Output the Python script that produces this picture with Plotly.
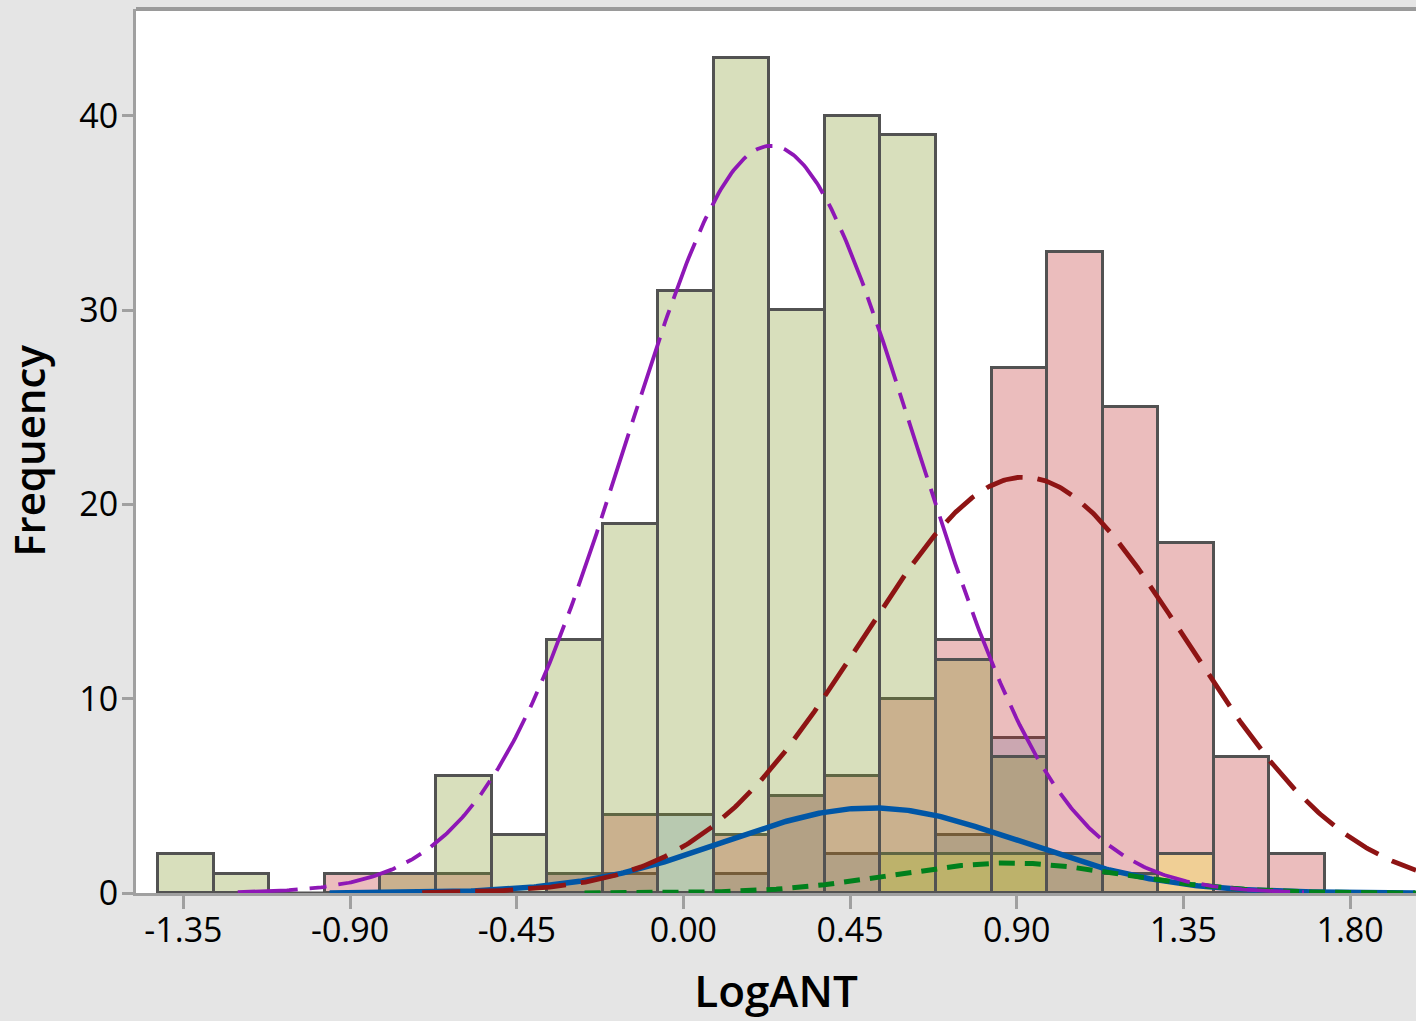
import numpy as np
import plotly.graph_objects as go

# ---------------- data ----------------
bin_centers = [-1.35, -1.20, -1.05, -0.90, -0.75, -0.60, -0.45, -0.30, -0.15, 0.00,
               0.15, 0.30, 0.45, 0.60, 0.75, 0.90, 1.05, 1.20, 1.35, 1.50, 1.65]
bin_width = 0.15
bin_shift = 0.007   # histogram bins sit slightly right of the nominal centres

counts_green  = [2, 1, 0, 0, 1, 6, 3, 13, 19, 31, 43, 30, 40, 39, 12, 7, 2, 1, 0, 0, 0]
counts_pink   = [0, 0, 0, 1, 1, 1, 0, 1, 4, 0, 3, 5, 6, 10, 13, 27, 33, 25, 18, 7, 2]
counts_blue   = [0, 0, 0, 0, 0, 0, 0, 1, 1, 4, 1, 5, 2, 2, 3, 8, 2, 0, 0, 0, 0]
counts_yellow = [0, 0, 0, 0, 0, 0, 0, 0, 0, 0, 0, 0, 0, 2, 2, 2, 0, 0, 2, 0, 0]

# fitted normal curves: (mean, std dev, count)
fit_green  = (0.236, 0.389, 250)
fit_pink   = (0.919, 0.439, 157)
fit_blue   = (0.51, 0.396, 29)
fit_yellow = (0.88, 0.31, 8)
fit_span_sd = 3.7

x_tickvals = [-1.35, -0.90, -0.45, 0.00, 0.45, 0.90, 1.35, 1.80]
x_ticktext = ["-1.35", "-0.90", "-0.45", "0.00", "0.45", "0.90", "1.35", "1.80"]
y_tickvals = [0, 10, 20, 30, 40]

X_RANGE = [-1.478, 1.978]
Y_RANGE = [0, 45.5]

FONT = "Open Sans"
OUTLINE = "#525252"

fig = go.Figure()

# ---------------- histogram bars (overlaid, translucent) ----------------
bar_layers = [
    (counts_blue, "rgba(102,152,198,0.3)"),
    (counts_pink, "rgba(188,38,38,0.3)"),
    (counts_yellow, "rgba(252,247,57,0.3)"),
    (counts_green, "rgba(125,148,32,0.3)"),
]
for counts, col in bar_layers:
    xs = [c for c, v in zip(bin_centers, counts) if v > 0]
    ys = [v for v in counts if v > 0]
    fig.add_trace(go.Bar(
        x=xs, y=ys, width=bin_width, offset=-bin_width / 2 + bin_shift,
        marker=dict(color=col, line=dict(color=OUTLINE, width=3)),
        hoverinfo="skip", showlegend=False,
    ))

# baseline under the histogram span
fig.add_trace(go.Scatter(
    x=[bin_centers[0] - bin_width / 2 + bin_shift, bin_centers[-1] + bin_width / 2 + bin_shift],
    y=[0, 0],
    mode="lines", line=dict(color=OUTLINE, width=3),
    hoverinfo="skip", showlegend=False, cliponaxis=False,
))

# ---------------- normal fit curves ----------------
def normal_curve(fit):
    mu, sd, n = fit
    lo = max(mu - fit_span_sd * sd, X_RANGE[0])
    hi = min(mu + fit_span_sd * sd, X_RANGE[1])
    x = np.linspace(lo, hi, 500)
    y = n * bin_width / (sd * np.sqrt(2 * np.pi)) * np.exp(-0.5 * ((x - mu) / sd) ** 2)
    return x, y

curve_styles = [
    (fit_blue, "#0056a6", 5.5, "solid"),
    (fit_yellow, "#00801c", 5, "16px,10px"),
    (fit_pink, "#8e1414", 4.8, "38px,15px"),
    (fit_green, "#8e17b6", 3.8, "60px,12px,17px,12px"),
]
for fit, col, w, dash in curve_styles:
    cx, cy = normal_curve(fit)
    fig.add_trace(go.Scatter(
        x=cx, y=cy, mode="lines",
        line=dict(color=col, width=w, dash=dash),
        hoverinfo="skip", showlegend=False, cliponaxis=False,
    ))

# ---------------- layout ----------------
fig.update_layout(
    width=1416, height=1021,
    margin=dict(l=136, r=0, t=9, b=128),
    paper_bgcolor="#e5e5e5",
    plot_bgcolor="white",
    barmode="overlay",
    bargap=0,
    showlegend=False,
    font=dict(family=FONT, color="black"),
    xaxis=dict(
        range=X_RANGE, tickvals=x_tickvals, ticktext=x_ticktext,
        ticks="outside", ticklen=13, tickwidth=3, tickcolor="#a0a0a0",
        ticklabelstandoff=-8,
        showline=True, linecolor="#a0a0a0", linewidth=3,
        showgrid=False, zeroline=False, layer="below traces",
        tickfont=dict(family=FONT, size=34, color="black"),
        title=dict(text="LogANT", font=dict(family=FONT, size=44, color="black", weight=600),
                   standoff=26),
    ),
    yaxis=dict(
        range=Y_RANGE, tickvals=y_tickvals,
        ticks="outside", ticklen=11, tickwidth=3, tickcolor="#a0a0a0",
        ticklabelstandoff=-3,
        showline=True, linecolor="#a0a0a0", linewidth=3,
        showgrid=False, zeroline=False, layer="below traces",
        tickfont=dict(family=FONT, size=34, color="black"),
        title=dict(text="Frequency", font=dict(family=FONT, size=42, color="black", weight=600),
                   standoff=25),
    ),
    shapes=[dict(type="line", xref="paper", yref="paper", x0=0, x1=1, y0=1, y1=1,
                 line=dict(color="#9a9a9a", width=4))],
)

fig.write_html("out.html")
